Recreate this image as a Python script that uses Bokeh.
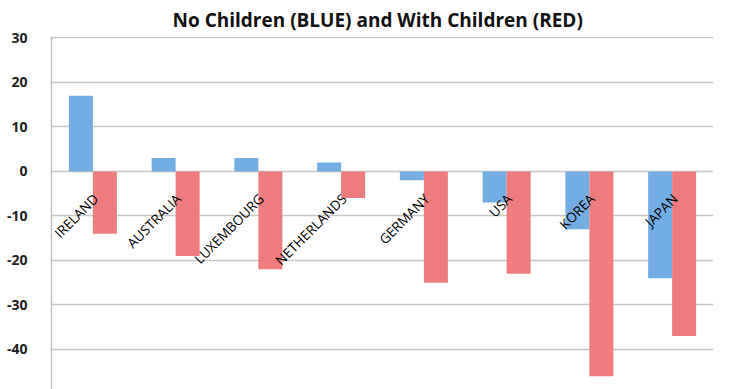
from bokeh.plotting import figure
from bokeh.models import FactorRange, Range1d, FixedTicker, ColumnDataSource, CustomJSTickFormatter
from bokeh.transform import dodge
from bokeh.core.properties import value
from bokeh.embed import file_html
from bokeh.resources import INLINE
import math

countries = ["IRELAND", "AUSTRALIA", "LUXEMBOURG", "NETHERLANDS", "GERMANY", "USA", "KOREA", "JAPAN"]
no_children = [17, 3, 3, 2, -2, -7, -13, -24]
with_children = [-14, -19, -22, -6, -25, -23, -46, -37]
y_ticks = [-50, -40, -30, -20, -10, 0, 10, 20, 30]

src = ColumnDataSource(dict(c=countries, blue=no_children, red=with_children, zero=[0] * len(countries)))

p = figure(frame_width=662, frame_height=353, output_backend="svg", toolbar_location=None,
           x_range=FactorRange(*countries, range_padding=0), y_range=Range1d(-49.0, 30.3),
           min_border_left=51, min_border_right=25, min_border_top=34, min_border_bottom=0)

p.title.text = "No Children (BLUE) and With Children (RED)"
p.title.align = "left"
p.title.text_font = "Open Sans"
p.title.text_font_size = "19px"
p.title.text_font_style = "bold"
p.title.text_color = "#111111"
p.title.standoff = 8
p.title.offset = 121

p.vbar(x=dodge("c", -0.145, range=p.x_range), bottom=0, top="blue", width=0.29, source=src,
       fill_color="#74ade4", line_color=None)
p.vbar(x=dodge("c", 0.145, range=p.x_range), bottom=0, top="red", width=0.29, source=src,
       fill_color="#ee7c7c", line_color=None)

p.text(x="c", y="zero", text="c", source=src, angle=math.pi / 4, text_align="right",
       text_baseline="middle", x_offset=3, y_offset=25, text_font=value("Open Sans"),
       text_font_size="13.5px", text_color="#000000")

p.xaxis.visible = False
p.xgrid.visible = False
p.yaxis.ticker = FixedTicker(ticks=y_ticks)
p.yaxis.formatter = CustomJSTickFormatter(code="return tick.toString();")
p.ygrid.ticker = FixedTicker(ticks=y_ticks)
p.ygrid.grid_line_color = "#c8c8c8"
p.ygrid.grid_line_width = 1.5
p.yaxis.axis_line_color = "#c0c0c0"
p.yaxis.axis_line_width = 1.5
p.yaxis.major_tick_line_color = None
p.yaxis.minor_tick_line_color = None
p.yaxis.major_label_standoff = 18
p.yaxis.major_label_text_font = "Open Sans"
p.yaxis.major_label_text_font_size = "14px"
p.yaxis.major_label_text_font_style = "bold"
p.yaxis.major_label_text_color = "#222222"
p.outline_line_color = None

open("out.html", "w").write(file_html(p, INLINE))
